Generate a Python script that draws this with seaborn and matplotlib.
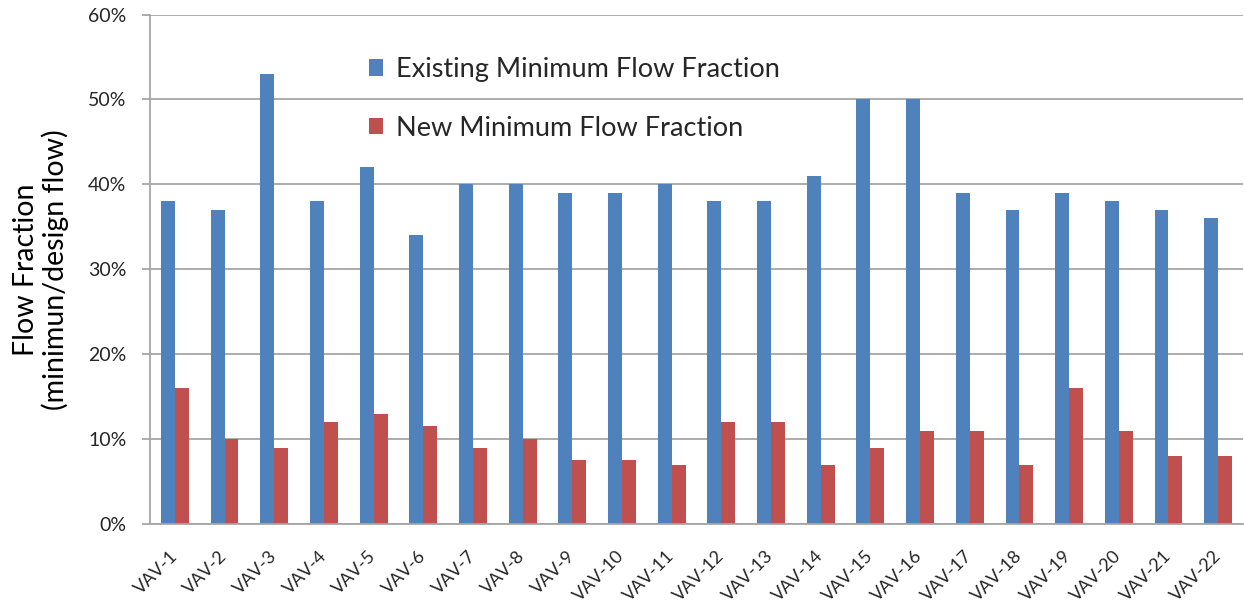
import matplotlib
matplotlib.use("Agg")
import matplotlib.pyplot as plt
from matplotlib.ticker import PercentFormatter
import seaborn as sns
import pandas as pd

# VAV box minimum flow fractions (percent of design flow)
units = [f"VAV-{i}" for i in range(1, 23)]
existing_min = [38, 37, 53, 38, 42, 34, 40, 40, 39, 39, 40,
                38, 38, 41, 50, 50, 39, 37, 39, 38, 37, 36]
new_min = [16, 10, 9, 12, 13, 11.5, 9, 10, 7.5, 7.5, 7,
           12, 12, 7, 9, 11, 11, 7, 16, 11, 8, 8]
series_names = ["Existing Minimum Flow Fraction", "New Minimum Flow Fraction"]
colors = ["#4F81BD", "#C0504D"]

df = pd.DataFrame({
    "unit": units * 2,
    "fraction": existing_min + new_min,
    "series": [series_names[0]] * len(units) + [series_names[1]] * len(units),
})

sns.set_theme(style="white")
plt.rcParams["font.family"] = ["Lato", "DejaVu Sans"]

fig = plt.figure(figsize=(12.44, 6.05), dpi=100)
ax = fig.add_axes([0.1206, 0.1339, 0.8786, 0.8421])

sns.barplot(data=df, x="unit", y="fraction", hue="series", order=units,
            hue_order=series_names, palette=colors, width=0.56, gap=0,
            saturation=1, ax=ax, edgecolor="none", linewidth=0)

ax.set_ylim(0, 60)
ax.set_xlim(-0.5, len(units) - 0.5)
ax.set_yticks(range(0, 61, 10))
ax.yaxis.set_major_formatter(PercentFormatter(decimals=0))
ax.yaxis.grid(True, color="#A6A6A6", linewidth=1.3)
ax.set_axisbelow(True)

for side in ["top", "right"]:
    ax.spines[side].set_visible(False)
for side in ["left", "bottom"]:
    ax.spines[side].set_color("#A6A6A6")
    ax.spines[side].set_linewidth(1.3)

ax.tick_params(axis="y", which="major", left=True, length=6, width=1.3,
               color="#A6A6A6", labelsize=14, labelcolor="#262626", pad=11)
ax.tick_params(axis="x", bottom=False, labelsize=13, labelcolor="#262626", pad=15)
plt.setp(ax.get_xticklabels(), rotation=45, ha="right", va="center",
         rotation_mode="anchor")

ax.set_xlabel("")
ax.set_ylabel("Flow Fraction\n(minimun/design flow)", fontsize=20.5,
              color="#000000", linespacing=1.12)
ax.yaxis.set_label_coords(-0.074, 0.5)

handles, labels = ax.get_legend_handles_labels()
ax.legend(handles, labels, loc="upper left", bbox_to_anchor=(0.19, 0.938),
          frameon=False, fontsize=19.5, handlelength=0.55, handleheight=0.55,
          handletextpad=0.45, labelspacing=1.25, borderaxespad=0)

fig.savefig("out.png", dpi=100, facecolor="white")
